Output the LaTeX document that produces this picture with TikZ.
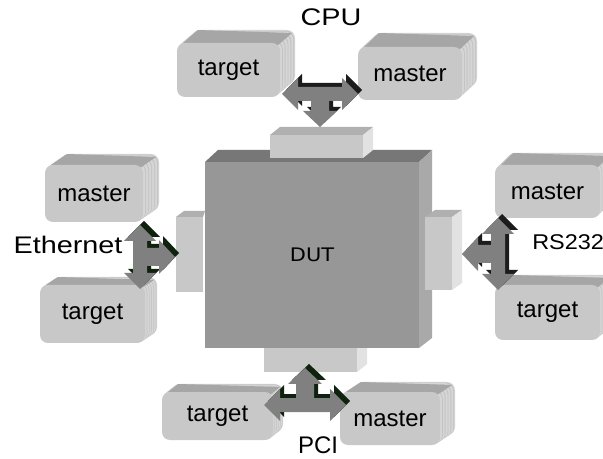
\documentclass[tikz,border=0pt]{standalone}
\usepackage{fontspec}
\setmainfont{Liberation Sans}
\newfontfamily\dejavu{DejaVu Sans}
\definecolor{frontc}{HTML}{C8C8C8}
\definecolor{topc}{HTML}{A6A6A6}
\definecolor{sideA}{HTML}{D6D6D6}
\definecolor{sideB}{HTML}{C4C4C4}
\definecolor{blkside}{HTML}{E2E2E2}
\definecolor{blktop}{HTML}{B0B0B0}
\definecolor{dutfront}{HTML}{979797}
\definecolor{duttop}{HTML}{777777}
\definecolor{dutside}{HTML}{A9A9A9}
\definecolor{arrowc}{HTML}{808080}
\definecolor{shadowk}{HTML}{1C1C1C}
\definecolor{shadowg}{HTML}{0E220E}
\tikzset{
  frontbox/.style={fill=frontc, rounded corners=6pt, inner sep=0pt, font=\fontsize{18}{20}\selectfont},
  lbl/.style={inner sep=0pt, font=\fontsize{18}{20}\selectfont},
}
% peripheral 3D box: name, x1,y1,x2,y2, depth dx, dy, text
\newcommand\pbox[8]{%
  \pgfmathsetmacro\pw{(#4-#2)*0.75}%
  \pgfmathsetmacro\ph{(#5-#3)*0.75}%
  \foreach \k in {16,...,1}{%
    \pgfmathsetmacro\ox{#6*\k/16}%
    \pgfmathsetmacro\oy{#7*\k/16}%
    \pgfmathtruncatemacro\odd{mod(\k,3)}%
    \ifnum\odd=0 \def\lc{sideB}\else\def\lc{sideA}\fi
    \fill[\lc, rounded corners=6pt] (#2+\ox,#3-\oy) rectangle (#4+\ox,#5-\oy);
  }%
  \fill[topc] (#2+6,#3) -- (#2+6+#6,#3-#7) -- (#4-3+#6,#3+3-#7) -- (#4-3,#3+3) -- cycle;
  \node[frontbox, minimum width=\pw pt, minimum height=\ph pt] (#1) at ({(#2+#4)/2},{(#3+#5)/2}) {#8};
}
% three-way arrow: cx, cy, rotation, half bar length, stem length, shadow colour
\newcommand\tarrow[6]{%
  \foreach \dx/\dy/\c in {4/-4/#6, 0/0/arrowc}{%
    \begin{scope}[shift={(#1+\dx,#2+\dy)}, rotate=#3]
      \fill[\c] (-#4,0) -- (-#4+16,-16) -- (-#4+16,-7) -- (#4-16,-7) -- (#4-16,-16) -- (#4,0)
        -- (#4-16,16) -- (#4-16,7) -- (9,7) -- (9,#5-16) -- (17,#5-16) -- (0,#5)
        -- (-17,#5-16) -- (-9,#5-16) -- (-9,7) -- (-#4+16,7) -- (-#4+16,16) -- cycle;
    \end{scope}}%
}
\begin{document}
\begin{tikzpicture}[x=0.75pt,y=-0.75pt]
\useasboundingbox (0,0) rectangle (603,459);
\fill[white] (0,0) rectangle (603,459);

% bottom connector block (behind DUT)
\fill[blkside] (357,348) -- (367,340) -- (367,364) -- (357,372) -- cycle;
\fill[frontc] (264,340) rectangle (357,372);

% DUT
\fill[duttop] (205,162) -- (218,150) -- (432,150) -- (419,162) -- cycle;
\fill[dutside] (419,162) -- (432,150) -- (432,338) -- (419,348) -- cycle;
\node[fill=dutfront, inner sep=0pt, minimum width=160.5pt, minimum height=139.5pt,
      font=\dejavu\fontsize{14}{16}\selectfont] (dut) at (312,255) {\scalebox{1.12}[1]{DUT}};
\fill[frontc] (264,348) rectangle (357,372);

% top connector block
\fill[blktop] (270,135) -- (280,127) -- (373,127) -- (363,135) -- cycle;
\fill[blkside] (363,135) -- (373,127) -- (373,150) -- (363,158) -- cycle;
\node[fill=frontc, inner sep=0pt, minimum width=69.75pt, minimum height=17.25pt] (pcpu) at (316.5,146.5) {};
% left connector block
\fill[blktop] (176,217) -- (184,211) -- (205,211) -- (203,217) -- cycle;
\node[fill=frontc, inner sep=0pt, minimum width=20.25pt, minimum height=56.25pt] (peth) at (189.5,254.5) {};
% right connector block
\fill[blktop] (425,217) -- (435,210) -- (462,210) -- (452,217) -- cycle;
\fill[blkside] (452,217) -- (462,210) -- (462,283) -- (452,290) -- cycle;
\node[fill=frontc, inner sep=0pt, minimum width=20.25pt, minimum height=54.75pt] (prs) at (438.5,253.5) {};

% peripheral boxes
\pbox{cputarget}{177}{43}{280}{97}{15}{13}{target}
\pbox{cpumaster}{358}{47}{462}{100}{15}{14}{master}
\pbox{ethmaster}{45}{165}{143}{222}{16}{11}{master}
\pbox{ethtarget}{40}{285}{145}{343}{12}{8}{target}
\pbox{rsmaster}{495}{165}{600}{218}{12}{12}{master}
\pbox{rstarget}{495}{285}{600}{340}{12}{10}{target}
\pbox{pcitarget}{162}{392}{273}{440}{10}{8}{target}
\pbox{pcimaster}{340}{392}{440}{445}{15}{10}{master}

% three-way arrows
\tarrow{320}{94}{0}{38}{33}{shadowk}
\tarrow{140}{257}{90}{32}{35}{shadowg}
\tarrow{498}{254}{-90}{36}{36}{shadowk}
\tarrow{305}{405}{180}{41}{37}{shadowg}

% labels
\node[lbl] (lcpu) at (331,17) {\scalebox{1.2}[1]{CPU}};
\node[lbl] (leth) at (68,245) {\scalebox{1.2}[1]{Ethernet}};
\node[lbl, anchor=west, font=\fontsize{16}{18}\selectfont] (lrs) at (532,242) {\scalebox{1.1}[1]{RS232}};
\node[lbl, anchor=base] (lpci) at (318,453) {PCI};
\end{tikzpicture}
\end{document}
